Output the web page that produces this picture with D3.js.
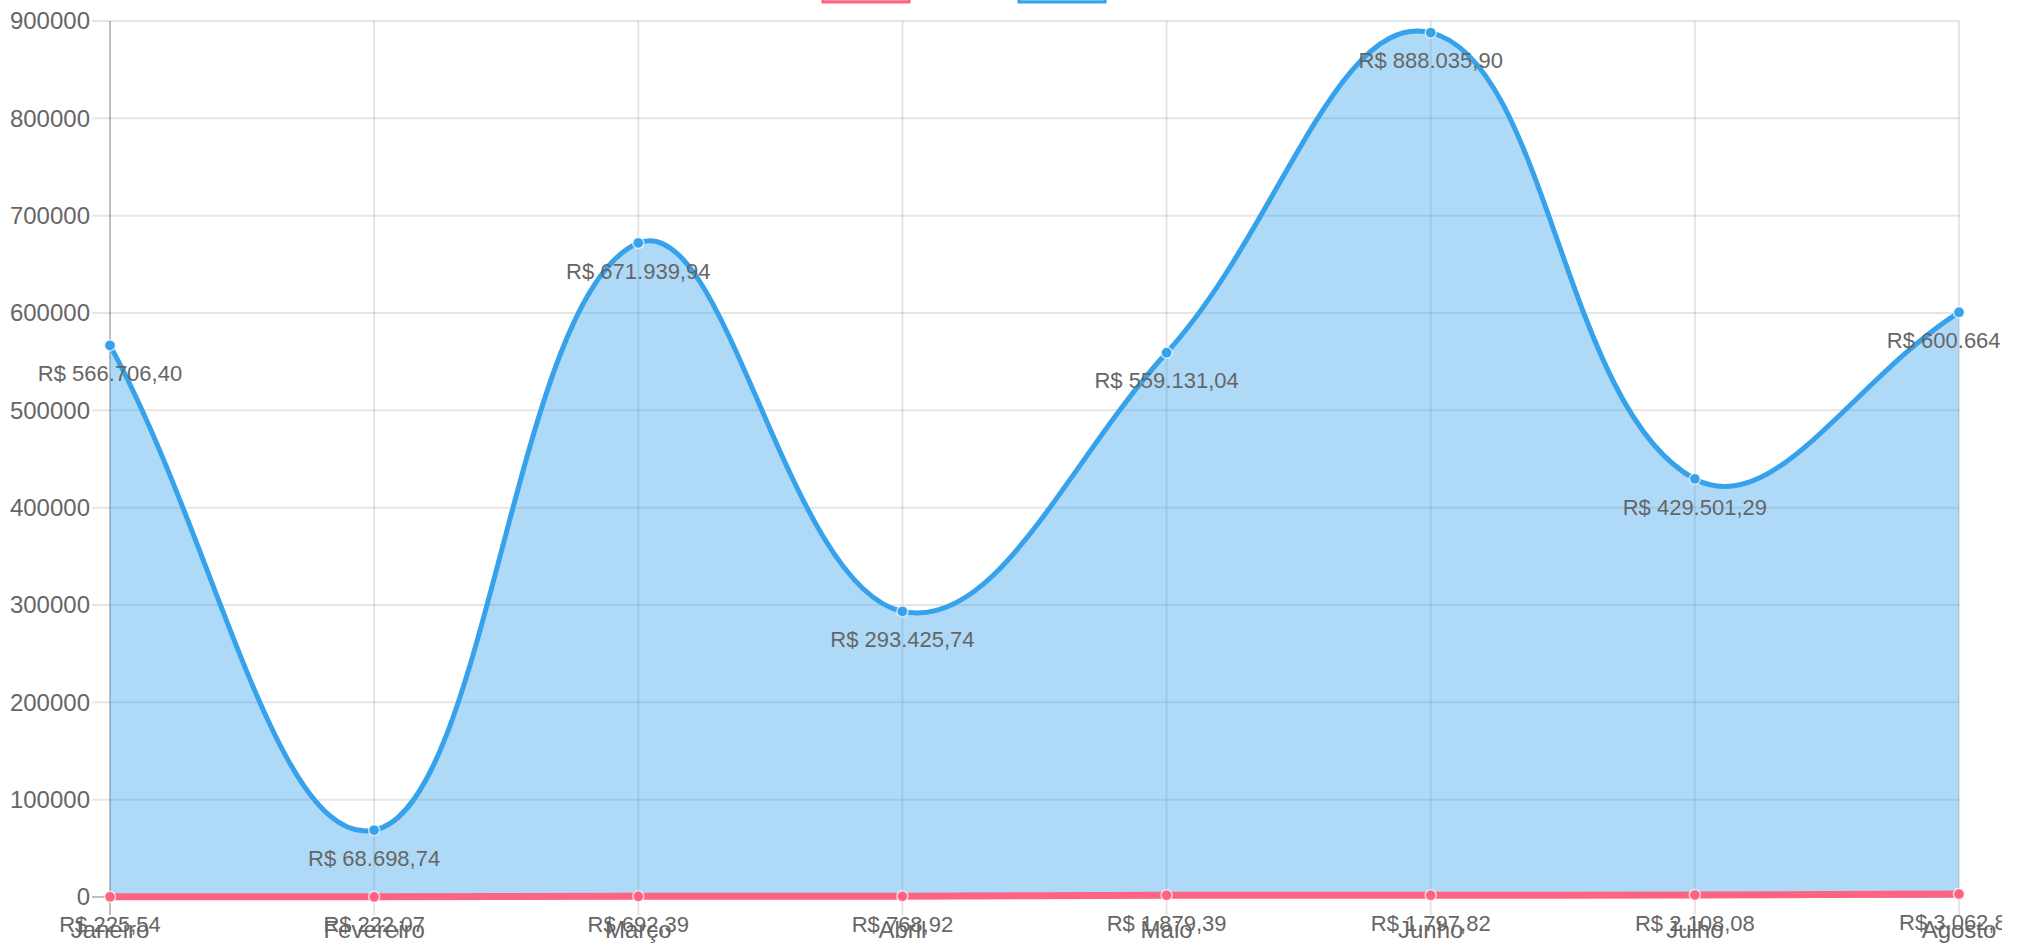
<!DOCTYPE html>
<html>
<head>
<meta charset="utf-8">
<script src="https://cdn.jsdelivr.net/npm/d3@7"></script>
<style>
  body { margin: 0; background: #fff; }
  svg { display: block; font-family: 'Liberation Sans', Arial, sans-serif; }
</style>
</head>
<body>
<div id="chart"></div>
<script>
const months = ['Janeiro', 'Fevereiro', 'Março', 'Abril', 'Maio', 'Junho', 'Julho', 'Agosto'];
const pinkValues = [225.54, 222.07, 692.39, 768.92, 1879.39, 1797.82, 2108.08, 3062.8];
const blueValues = [566706.40, 68698.74, 671939.94, 293425.74, 559131.04, 888035.90, 429501.29, 600664.0];
const yTicks = [0, 100000, 200000, 300000, 400000, 500000, 600000, 700000, 800000, 900000];

const width = 2022;
const height = 946;
const canvasWidth = 2002;
const margin = { top: 21, right: 63, bottom: 49, left: 110 };

const pink = 'rgb(255, 99, 132)';
const blue = 'rgb(54, 162, 235)';

const brl = (v) => 'R$ ' + v.toLocaleString('pt-BR', { minimumFractionDigits: 2, maximumFractionDigits: 2 });

const svg = d3.select('#chart').append('svg')
  .attr('width', width)
  .attr('height', height);

svg.append('clipPath')
  .attr('id', 'canvas-clip')
  .append('rect')
  .attr('x', 0)
  .attr('y', 0)
  .attr('width', canvasWidth)
  .attr('height', height);

const x = d3.scalePoint().domain(months).range([margin.left, width - margin.right]);
const y = d3.scaleLinear().domain([0, 900000]).range([height - margin.bottom, margin.top]);

// grid
const grid = svg.append('g');
grid.selectAll('.hgrid')
  .data(yTicks)
  .enter()
  .append('line')
  .attr('x1', margin.left - 18)
  .attr('x2', width - margin.right)
  .attr('y1', (d) => y(d))
  .attr('y2', (d) => y(d))
  .attr('stroke', (d) => (d === 0 ? 'rgba(0,0,0,0.25)' : 'rgba(0,0,0,0.1)'))
  .attr('stroke-width', 2);

grid.selectAll('.vgrid')
  .data(months)
  .enter()
  .append('line')
  .attr('x1', (d) => x(d))
  .attr('x2', (d) => x(d))
  .attr('y1', margin.top)
  .attr('y2', height - margin.bottom + 18)
  .attr('stroke', (d, i) => (i === 0 ? 'rgba(0,0,0,0.25)' : 'rgba(0,0,0,0.1)'))
  .attr('stroke-width', 2);

// y tick labels
svg.selectAll('.ylab')
  .data(yTicks)
  .enter()
  .append('text')
  .attr('x', margin.left - 20)
  .attr('y', (d) => y(d))
  .attr('dy', '0.35em')
  .attr('text-anchor', 'end')
  .attr('font-size', 24)
  .attr('fill', '#666')
  .text((d) => d);

// x tick labels
svg.selectAll('.xlab')
  .data(months)
  .enter()
  .append('text')
  .attr('x', (d) => x(d))
  .attr('y', height - margin.bottom + 33)
  .attr('dy', '0.35em')
  .attr('text-anchor', 'middle')
  .attr('font-size', 24)
  .attr('fill', '#666')
  .text((d) => d);

// chart.js style spline (tension 0.4)
const splinePath = (values) => {
  const pts = values.map((v, i) => ({ x: x(months[i]), y: y(v) }));
  const t = 0.4;
  const cps = pts.map((p, i) => {
    const prev = pts[i - 1] || p;
    const next = pts[i + 1] || p;
    const d01 = Math.hypot(p.x - prev.x, p.y - prev.y);
    const d12 = Math.hypot(next.x - p.x, next.y - p.y);
    let s01 = d01 / (d01 + d12);
    let s12 = d12 / (d01 + d12);
    if (isNaN(s01)) s01 = 0;
    if (isNaN(s12)) s12 = 0;
    const fa = t * s01;
    const fb = t * s12;
    return {
      px: p.x - fa * (next.x - prev.x),
      py: p.y - fa * (next.y - prev.y),
      nx: p.x + fb * (next.x - prev.x),
      ny: p.y + fb * (next.y - prev.y)
    };
  });
  const path = d3.path();
  path.moveTo(pts[0].x, pts[0].y);
  for (let i = 1; i < pts.length; i += 1) {
    path.bezierCurveTo(cps[i - 1].nx, cps[i - 1].ny, cps[i].px, cps[i].py, pts[i].x, pts[i].y);
  }
  return { d: path.toString(), first: pts[0], last: pts[pts.length - 1] };
};

const drawSeries = (values, color, fill, lineWidth) => {
  const sp = splinePath(values);
  svg.append('path')
    .attr('d', `${sp.d}L${sp.last.x},${y(0)}L${sp.first.x},${y(0)}Z`)
    .attr('fill', fill);
  svg.append('path')
    .attr('d', sp.d)
    .attr('fill', 'none')
    .attr('stroke', color)
    .attr('stroke-width', lineWidth);
};

drawSeries(blueValues, blue, 'rgba(54,162,235,0.4)', 5);
drawSeries(pinkValues, pink, 'rgba(255,99,132,0.4)', 7);

const drawPoints = (values, color) => {
  svg.append('g')
    .selectAll('circle')
    .data(values)
    .enter()
    .append('circle')
    .attr('cx', (d, i) => x(months[i]))
    .attr('cy', (d) => y(d))
    .attr('r', 5.5)
    .attr('fill', color)
    .attr('stroke', 'rgba(255,255,255,0.7)')
    .attr('stroke-width', 1.5);
};

drawPoints(pinkValues, pink);
drawPoints(blueValues, blue);

// data labels (clipped at the chart canvas edge like the original)
const drawLabels = (values) => {
  svg.append('g')
    .attr('clip-path', 'url(#canvas-clip)')
    .selectAll('text')
    .data(values)
    .enter()
    .append('text')
    .attr('x', (d, i) => x(months[i]))
    .attr('y', (d) => y(d) + 28)
    .attr('dy', '0.35em')
    .attr('text-anchor', 'middle')
    .attr('font-size', 22)
    .attr('fill', '#666')
    .text((d) => brl(d));
};

drawLabels(blueValues);
drawLabels(pinkValues);

// legend boxes (mostly above the visible area)
const legendBoxes = [
  { x: 823, color: pink, fill: 'rgba(255,99,132,0.4)' },
  { x: 1019, color: blue, fill: 'rgba(54,162,235,0.4)' }
];
svg.selectAll('.legend')
  .data(legendBoxes)
  .enter()
  .append('rect')
  .attr('x', (d) => d.x)
  .attr('y', -26)
  .attr('width', 86)
  .attr('height', 28)
  .attr('fill', (d) => d.fill)
  .attr('stroke', (d) => d.color)
  .attr('stroke-width', 3);
</script>
</body>
</html>
